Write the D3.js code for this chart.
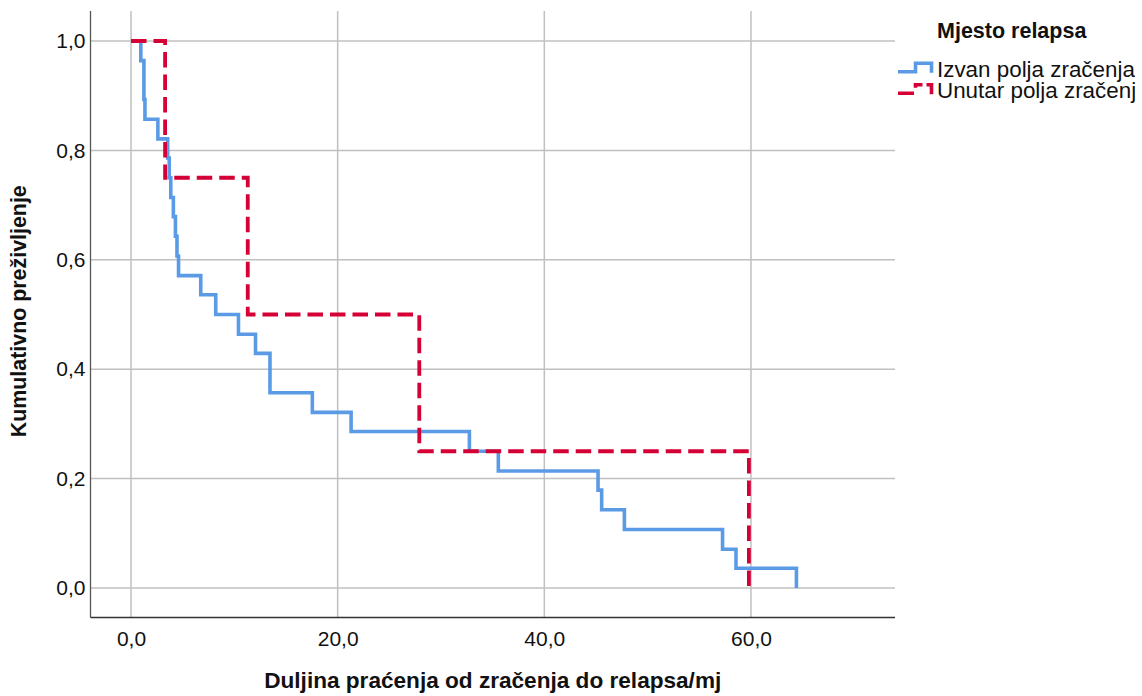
<!DOCTYPE html>
<html>
<head>
<meta charset="utf-8">
<script src="https://cdn.jsdelivr.net/npm/d3@7"></script>
<style>
  html, body { margin: 0; padding: 0; background: #fff; }
  svg { display: block; font-family: Arial, "Liberation Sans", sans-serif; }
</style>
</head>
<body>
<svg id="chart" width="1142" height="696"></svg>
<script>
// ---- data ----
const seriesNames = ["Izvan polja zračenja", "Unutar polja zračenja"];
const outsideTimes = [0, 0.95, 1.25, 1.35, 2.6, 3.55, 3.7, 3.85, 4.1, 4.3, 4.45, 4.6, 6.75, 8.2, 10.4, 12.05, 13.45, 17.55, 21.3, 32.75, 35.55, 45.2, 45.55, 47.75, 57.25, 58.55, 64.4];
const outsideSurv  = [1, 0.964, 0.893, 0.857, 0.821, 0.786, 0.75, 0.714, 0.679, 0.643, 0.607, 0.571, 0.536, 0.5, 0.464, 0.429, 0.357, 0.321, 0.286, 0.25, 0.214, 0.179, 0.143, 0.107, 0.071, 0.036, 0];
const insideTimes = [0, 3.3, 11.3, 27.9, 59.8];
const insideSurv  = [1, 0.75, 0.5, 0.25, 0];
const xTicks = [0, 20, 40, 60];
const yTicks = [0, 0.2, 0.4, 0.6, 0.8, 1.0];
const xTitle = "Duljina praćenja od zračenja do relapsa/mj";
const yTitle = "Kumulativno preživljenje";
const legendTitle = "Mjesto relapsa";

// ---- layout ----
const svg = d3.select("#chart");
const L = 90.5, R = 895, T = 11, B = 617.5;
const x = d3.scaleLinear().domain([-3.92, 73.94]).range([L, R]);
const y = d3.scaleLinear().domain([-0.0539, 1.0548]).range([B, T]);
const fmt = v => d3.format(".1f")(v).replace(".", ",");

// grid
const grid = svg.append("g");
grid.selectAll("line.v").data(xTicks).join("line")
  .attr("x1", d => x(d)).attr("x2", d => x(d)).attr("y1", T).attr("y2", B)
  .attr("stroke", "#c0c0c0").attr("stroke-width", 1.5);
grid.selectAll("line.h").data(yTicks).join("line")
  .attr("y1", d => y(d)).attr("y2", d => y(d)).attr("x1", L).attr("x2", R)
  .attr("stroke", "#c0c0c0").attr("stroke-width", 1.5);

// axes (no tick marks)
const xAxis = d3.axisBottom(x).tickValues(xTicks).tickFormat(fmt).tickSize(0).tickPadding(14);
const yAxis = d3.axisLeft(y).tickValues(yTicks).tickFormat(fmt).tickSize(0).tickPadding(5);
const gx = svg.append("g").attr("transform", `translate(0,${B})`).call(xAxis);
const gy = svg.append("g").attr("transform", `translate(${L},0)`).call(yAxis);
[gx, gy].forEach(g => {
  g.select(".domain").remove();
  g.selectAll("text").attr("font-size", 21).attr("fill", "#111").attr("font-family", "Arial, 'Liberation Sans', sans-serif");
});
gx.selectAll("text").attr("dy", "0.71em");
svg.append("line").attr("x1", L).attr("x2", L).attr("y1", T).attr("y2", B).attr("stroke", "#555").attr("stroke-width", 1.3);
svg.append("line").attr("x1", L).attr("x2", R).attr("y1", B).attr("y2", B).attr("stroke", "#333").attr("stroke-width", 1.3);

// titles
svg.append("text").attr("x", (L + R) / 2).attr("y", 688).attr("text-anchor", "middle")
  .attr("font-size", 22.6).attr("font-weight", "bold").attr("fill", "#111").text(xTitle);
svg.append("text").attr("transform", `translate(26,${(T + B) / 2 - 3}) rotate(-90)`).attr("text-anchor", "middle")
  .attr("font-size", 21.4).attr("font-weight", "bold").attr("fill", "#111").text(yTitle);

// curves
const line = d3.line().x(d => x(d[0])).y(d => y(d[1])).curve(d3.curveStepAfter);
const outsideData = outsideTimes.map((t, i) => [t, outsideSurv[i]]);
const insideData = insideTimes.map((t, i) => [t, insideSurv[i]]);
svg.append("path").datum(outsideData).attr("d", line).attr("fill", "none")
  .attr("stroke", "#5b9be6").attr("stroke-width", 3.6);
svg.append("path").datum(insideData).attr("d", line).attr("fill", "none")
  .attr("stroke", "#d50036").attr("stroke-width", 3.8).attr("stroke-dasharray", "15.5,7");

// legend
const defs = svg.append("defs");
defs.append("clipPath").attr("id", "legclip").append("rect").attr("x", 0).attr("y", 0).attr("width", 1135).attr("height", 696);
const leg = svg.append("g").attr("clip-path", "url(#legclip)");
leg.append("text").attr("x", 937).attr("y", 37.7).attr("font-size", 21.5).attr("font-weight", "bold").attr("fill", "#111").text(legendTitle);
const legColors = ["#5b9be6", "#d50036"];
const legDash = [null, "16,7,10,4"];
const legBase = [76.7, 98.3];
seriesNames.forEach((name, i) => {
  const b = legBase[i];
  leg.append("path")
    .attr("d", `M898,${b - 5} H915.5 V${b - 13.5} H931.5 V${b - 4}`)
    .attr("fill", "none").attr("stroke", legColors[i]).attr("stroke-width", 3.6)
    .attr("stroke-dasharray", legDash[i]);
  leg.append("text").attr("x", 937).attr("y", b).attr("font-size", 22.4).attr("fill", "#111").text(name);
});
</script>
</body>
</html>
